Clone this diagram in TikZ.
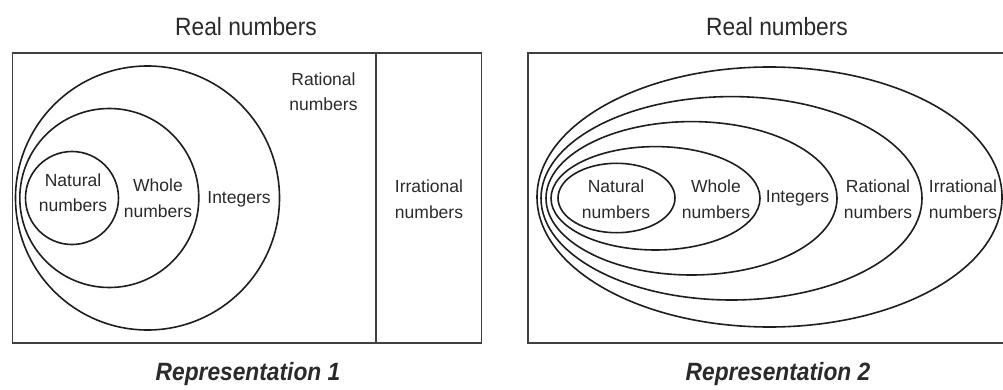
\documentclass[tikz,border=0pt]{standalone}
\usepackage{fontspec}
\setmainfont{Liberation Sans}
\newfontfamily\condfont[FakeStretch=0.91]{Liberation Sans}
\newcommand\twoline[2]{\begin{tabular}[t]{@{}c@{}}#1\\#2\end{tabular}}
\definecolor{ink}{HTML}{1E1E1E}
\definecolor{txt}{HTML}{2A2A2A}
\begin{document}
\begin{tikzpicture}[x=1pt,y=-1pt,
  frame/.style={draw=ink!85,line width=1.7pt},
  setline/.style={draw=ink,line width=1.6pt},
  lbl/.style={anchor=base,inner sep=0pt,text=txt,font=\fontsize{17.5}{25}\selectfont},
  ttl/.style={anchor=base,inner sep=0pt,text=txt,font=\condfont\fontsize{25}{28}\selectfont},
  rep/.style={anchor=base,inner sep=0pt,text=txt,font=\condfont\bfseries\itshape\fontsize{25}{28}\selectfont}]
\useasboundingbox (0,0) rectangle (1003,390);
\fill[white] (0,0) rectangle (1003,390);
% ---------- Representation 1 ----------
\node[ttl] (t1) at (246,36) {Real numbers};
\draw[frame] (12.5,53) rectangle (481.5,343);
\coordinate (d1) at (375.7,53);
\coordinate (d2) at (375.7,343);
\draw[frame] (d1) -- (d2);
\draw[setline] (147.5,198) circle (132);
\draw[setline] (109.3,198) circle (89.5);
\draw[setline] (72,198) circle (46.5);
\node[lbl] (nat1) at (73,186) {\twoline{Natural}{numbers}};
\node[lbl] (who1) at (158,192) {\twoline{Whole}{numbers}};
\node[lbl] (int1) at (239,204) {Integers};
\node[lbl] (rat1) at (323.5,86) {\twoline{Rational}{numbers}};
\node[lbl] (irr1) at (429,193) {\twoline{Irrational}{numbers}};
\node[rep] (r1) at (248,380) {Representation 1};
% ---------- Representation 2 ----------
\node[ttl] (t2) at (777,36) {Real numbers};
\draw[frame] (528,53) rectangle (1010,343);
\draw[setline] (769.5,197) ellipse (232.5 and 130);
\draw[setline] (731.5,198.3) ellipse (190.5 and 101.7);
\draw[setline] (691.5,198.3) ellipse (145.5 and 76.7);
\draw[setline] (655.5,198.3) ellipse (104.5 and 51.7);
\draw[setline] (616.5,198) ellipse (58.5 and 34.7);
\node[lbl] (nat2) at (616,193) {\twoline{Natural}{numbers}};
\node[lbl] (who2) at (716,193) {\twoline{Whole}{numbers}};
\node[lbl] (int2) at (797.5,202) {Integers};
\node[lbl] (rat2) at (878,193) {\twoline{Rational}{numbers}};
\node[lbl] (irr2) at (963,193) {\twoline{Irrational}{numbers}};
\node[rep] (r2) at (778,380) {Representation 2};
\end{tikzpicture}
\end{document}
